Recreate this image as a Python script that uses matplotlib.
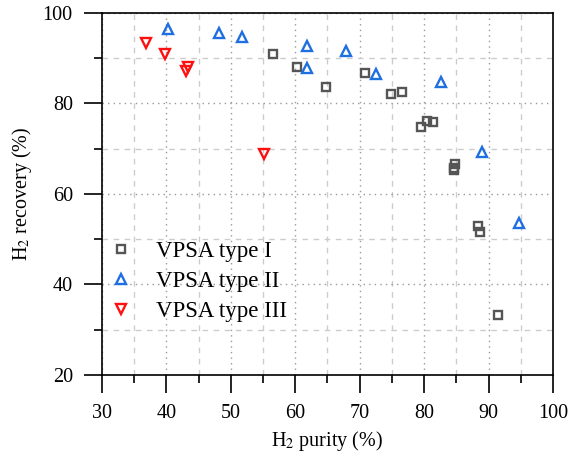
import matplotlib
matplotlib.use('Agg')
import matplotlib.pyplot as plt
from matplotlib.ticker import MultipleLocator

plt.rcParams['font.family'] = ['Liberation Serif', 'DejaVu Serif']
plt.rcParams['mathtext.fontset'] = 'stix'

# data (purity %, recovery %)
type1_purity = [56.5, 60.3, 64.8, 70.8, 74.8, 76.5, 79.5, 80.4, 81.3, 84.8, 84.7, 84.6, 88.3, 88.7, 91.5]
type1_recovery = [90.9, 88.1, 83.7, 86.7, 82.1, 82.5, 74.7, 76.2, 75.8, 66.6, 65.8, 65.4, 53.0, 51.5, 33.2]

type2_purity = [40.3, 48.2, 51.8, 61.8, 61.8, 67.8, 72.6, 82.6, 89.0, 94.7]
type2_recovery = [96.4, 95.5, 94.6, 92.7, 87.8, 91.7, 86.6, 84.8, 69.3, 53.5]

type3_purity = [36.9, 39.8, 43.0, 43.3, 55.2]
type3_recovery = [93.3, 90.9, 87.2, 88.0, 68.8]

labels = ['VPSA type I', 'VPSA type II', 'VPSA type III']

fig = plt.figure(figsize=(5.71, 4.54), dpi=100)
ax = fig.add_axes([0.1786, 0.174, 0.7899, 0.7974])

ax.plot(type1_purity, type1_recovery, 's', ms=5.5, mew=1.7, mfc='none', mec='#555555', ls='none', label=labels[0])
ax.plot(type2_purity, type2_recovery, '^', ms=7, mew=1.7, mfc='none', mec='#1f6fe0', ls='none', label=labels[1])
ax.plot(type3_purity, type3_recovery, 'v', ms=7, mew=1.7, mfc='none', mec='#ff1010', ls='none', label=labels[2])

ax.set_xlim(30, 100)
ax.set_ylim(20, 100)
ax.xaxis.set_major_locator(MultipleLocator(10))
ax.xaxis.set_minor_locator(MultipleLocator(5))
ax.yaxis.set_major_locator(MultipleLocator(20))
ax.yaxis.set_minor_locator(MultipleLocator(10))

ax.grid(which='major', ls=(0, (1, 3)), color='#999999', lw=1)
ax.grid(which='minor', ls=(0, (4, 4)), color='#cccccc', lw=1)
ax.set_axisbelow(True)

ax.tick_params(which='major', direction='out', length=13, width=1.2, labelsize=14.5, pad=8)
ax.tick_params(which='minor', direction='out', length=6, width=1.2)
for s in ax.spines.values():
    s.set_linewidth(1.2)

ax.set_xlabel('H$_2$ purity (%)', fontsize=14.5, labelpad=4)
ax.set_ylabel('H$_2$ recovery (%)', fontsize=14.5, labelpad=6)

ax.legend(loc='center left', bbox_to_anchor=(-0.028, 0.258), frameon=False, fontsize=16.5,
          handlelength=1.0, handletextpad=1.0, labelspacing=0.4)

fig.savefig('out.png', dpi=100)
